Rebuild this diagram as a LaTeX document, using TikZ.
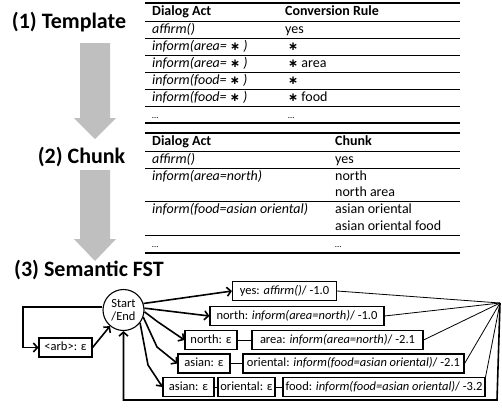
\documentclass[tikz,border=0pt]{standalone}
\usepackage{fontspec}
\setmainfont{Carlito}
\newfontfamily\symfont{DejaVu Sans}
\usetikzlibrary{arrows.meta,shapes.geometric}
\definecolor{arrowgray}{RGB}{191,191,191}
\newcommand{\astx}{{\symfont\bfseries\fontsize{12}{12}\selectfont ∗}}
\begin{document}
\begin{tikzpicture}[x=1pt,y=-1pt,
  title/.style={font=\fontsize{22}{24}\selectfont\bfseries, inner sep=0pt},
  tbl/.style={font=\fontsize{14}{16}\selectfont, anchor=west, inner sep=0pt, text height=10pt, text depth=3pt},
  tblh/.style={tbl, font=\fontsize{14}{16}\selectfont\bfseries},
  tbli/.style={tbl, font=\fontsize{14}{16}\selectfont\itshape},
  outer rule/.style={line width=1.4pt},
  inner rule/.style={line width=0.7pt},
  fbox/.style={draw, line width=1.1pt, minimum height=19pt, inner sep=2pt, font=\fontsize{12.5}{14}\selectfont, text height=8.5pt, text depth=2.5pt},
  state/.style={draw, circle, line width=1.1pt, minimum size=41pt, inner sep=0pt, align=center, font=\fontsize{12.5}{13}\selectfont},
  arr/.style={line width=1.6pt, -{Straight Barb[length=4pt,width=9pt,line width=1.6pt]}},
  link/.style={line width=0.8pt}
]
\useasboundingbox (0,0) rectangle (502,407);

% titles
\node[title] (T1) at (69,22) {(1) Template};
\node[title] (T2) at (81.5,157) {(2) Chunk};
\node[title] (T3) at (89,270) {(3) Semantic FST};

% gray arrows
\fill[arrowgray] (80,43) -- (110,43) -- (110,118) -- (116,118) -- (95,139) -- (74,118) -- (80,118) -- cycle;
\fill[arrowgray] (80,170) -- (110,170) -- (110,239) -- (116,239) -- (95,261) -- (74,239) -- (80,239) -- cycle;

% table 1
\draw[outer rule] (145,3) -- (460,3);
\foreach \y in {21,38,55,72,89,106} \draw[inner rule] (145,\y) -- (460,\y);
\draw[outer rule] (145,123) -- (460,123);
\node[tblh] (a0) at (152,12) {Dialog Act};
\node[tblh] (b0) at (285,12) {Conversion Rule};
\node[tbli] (a1) at (152,29.5) {affirm()};
\node[tbl]  (b1) at (285,29.5) {yes};
\node[tbli] (a2) at (152,46.5) {inform(area= \astx\ )};
\node[tbl]  (b2) at (288,46.5) {\astx};
\node[tbli] (a3) at (152,63.5) {inform(area= \astx\ )};
\node[tbl]  (b3) at (288,63.5) {\astx\ area};
\node[tbli] (a4) at (152,80.5) {inform(food= \astx\ )};
\node[tbl]  (b4) at (288,80.5) {\astx};
\node[tbli] (a5) at (152,97.5) {inform(food= \astx\ )};
\node[tbl]  (b5) at (288,97.5) {\astx\ food};
\node[tbl]  (a6) at (152,114.5) {\fontsize{9}{10}\selectfont …};
\node[tbl]  (b6) at (288,114.5) {\fontsize{9}{10}\selectfont …};

% table 2
\draw[outer rule] (145,133) -- (460,133);
\foreach \y in {151,168,201.5,235} \draw[inner rule] (145,\y) -- (460,\y);
\draw[outer rule] (145,253) -- (460,253);
\node[tblh] (c0) at (152,142) {Dialog Act};
\node[tblh] (d0) at (335,142) {Chunk};
\node[tbli] (c1) at (152,159.5) {affirm()};
\node[tbl]  (d1) at (335,159.5) {yes};
\node[tbli] (c2) at (152,176.5) {inform(area=north)};
\node[tbl]  (d2) at (335,176.5) {north};
\node[tbl]  (d3) at (335,193) {north area};
\node[tbli] (c4) at (152,210) {inform(food=asian oriental)};
\node[tbl]  (d4) at (335,210) {asian oriental};
\node[tbl]  (d5) at (335,226.5) {asian oriental food};
\node[tbl]  (c6) at (152,244) {\fontsize{9}{10}\selectfont …};
\node[tbl]  (d6) at (335,244) {\fontsize{9}{10}\selectfont …};

% FST
\node[state] (C) at (123.5,310) {Start\\/End};
\node[fbox, minimum width=53pt] (arb) at (65.5,347.5) {<arb>: ε};
\node[fbox, minimum width=104pt] (R1) at (284.5,291) {yes: \textit{affirm()}/ -1.0};
\node[fbox, minimum width=174pt] (R2) at (297,316) {north: \textit{inform(area=north)}/ -1.0};
\node[fbox, minimum width=52pt] (R3a) at (211,340) {north: ε};
\node[fbox, minimum width=171pt] (R3b) at (337.5,340) {area: \textit{inform(area=north)}/ -2.1};
\node[fbox, minimum width=52pt] (R4a) at (204,363.5) {asian: ε};
\node[fbox, minimum width=221pt] (R4b) at (353.5,363.5) {oriental: \textit{inform(food=asian oriental)}/ -2.1};
\node[fbox, minimum width=51pt] (R5a) at (188.5,387) {asian: ε};
\node[fbox, minimum width=57pt] (R5b) at (246.5,387) {oriental: ε};
\node[fbox, minimum width=202pt] (R5c) at (384,387) {food: \textit{inform(food=asian oriental)}/ -3.2};

\coordinate (L1) at (23,307);
\coordinate (L2) at (23,347.5);
\coordinate (V) at (500,303);
\coordinate (B1) at (497,400);
\coordinate (B2) at (123.5,400);
\coordinate (K3) at (158,322);
\coordinate (K4) at (157,347);
\coordinate (K5) at (148,365);

\draw[arr] (C.west |- L1) -- (L1) -- (L2) -- (arb.west);
\draw[arr] (arb.east) -- (C.-130);
\draw[arr] (C.18) -- (R1.west);
\draw[arr] (C.5) -- (R2.west);
\draw[arr] (C.-5) -- (K3) -- (R3a.west);
\draw[arr] (C.-20) -- (K4) -- (R4a.west);
\draw[arr] (C.-38) -- (K5) -- (R5a.west);

\draw[link] (R3a) -- (R3b);
\draw[link] (R4a) -- (R4b);
\draw[link] (R5a) -- (R5b);
\draw[link] (R5b) -- (R5c);

\draw[link] (R1.east) -- (V);
\draw[link] (R2.east) -- (V);
\draw[link] (R3b.east) -- (V);
\draw[link] (R4b.east) -- (V);
\draw[link] (R5c.north east) -- (V);
\draw[arr] (V) -- (B1) -- (B2) -- (C.south);
\end{tikzpicture}
\end{document}
